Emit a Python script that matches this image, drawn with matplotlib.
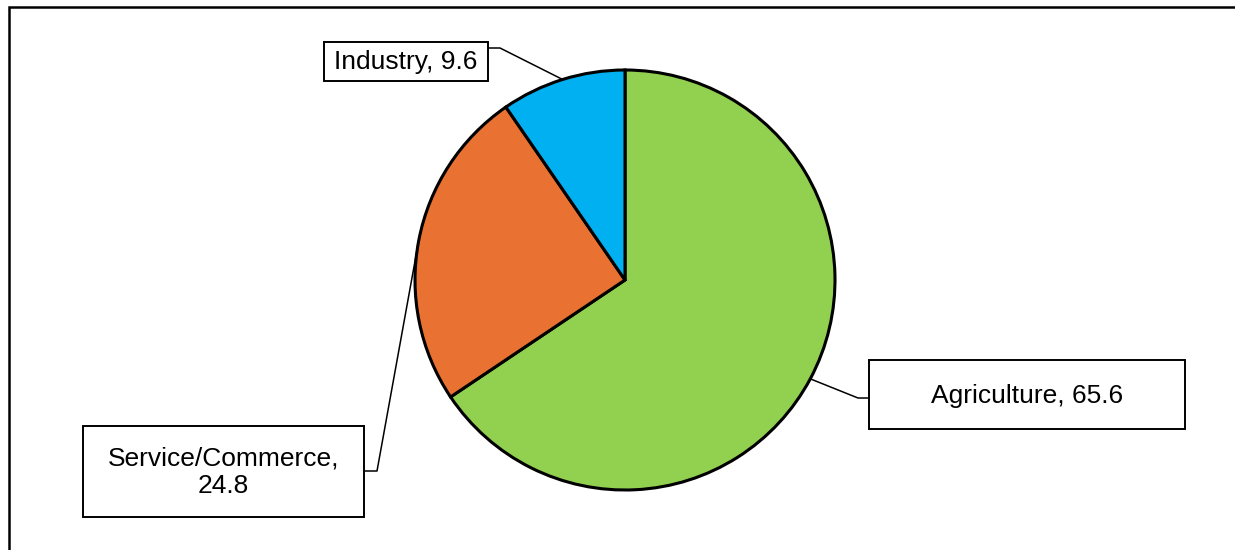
import matplotlib.pyplot as plt
import numpy as np
from matplotlib.patches import Rectangle

plt.rcParams['font.family'] = ['Liberation Sans', 'DejaVu Sans']

sectors = ['Agriculture', 'Service/Commerce', 'Industry']
shares = [65.6, 24.8, 9.6]
label_texts = ['Agriculture, 65.6', 'Service/Commerce,\n24.8', 'Industry, 9.6']
colors = ['#92D050', '#E97132', '#00B0F0']

W, H = 1235, 550
fig = plt.figure(figsize=(W / 100, H / 100), dpi=100)
ax = fig.add_axes([0, 0, 1, 1])

# outer chart frame (only left and top visible)
ax.plot([9, 9, W + 5], [-5, H - 7, H - 7], color='black', lw=1.8,
        solid_joinstyle='miter')

cx, cy, r = 625, H - 280, 210
wedges, _ = ax.pie(shares, colors=colors, startangle=90, counterclock=False,
                   center=(cx, cy), radius=r, frame=True,
                   wedgeprops=dict(edgecolor='black', linewidth=2.2))
ax.set_xlim(0, W)
ax.set_ylim(0, H)
ax.set_aspect('equal')
ax.axis('off')

# label boxes in pixel coords: left, top, right, bottom
boxes = [(869, 360, 1185, 429), (83, 426, 364, 517), (324, 42, 488, 81)]
# leader line points near the box: attach point, elbow
elbows = [((869, 398), (858, 398)), ((364, 471), (377, 471)),
          ((488, 48), (500, 48))]

for w, txt, box, (p0, p1) in zip(wedges, label_texts, boxes, elbows):
    mid = np.deg2rad((w.theta1 + w.theta2) / 2)
    ex, ey = cx + r * np.cos(mid), cy + r * np.sin(mid)
    ax.plot([p0[0], p1[0], ex], [H - p0[1], H - p1[1], ey],
            color='black', lw=1.1, zorder=1)
    l, t, rr, b = box
    ax.add_patch(Rectangle((l, H - b), rr - l, b - t, facecolor='white',
                           edgecolor='black', lw=1.4, zorder=3))
    ax.text((l + rr) / 2, H - (t + b) / 2 - 1, txt, ha='center', va='center',
            fontsize=19, linespacing=1.2, zorder=4)

fig.savefig('out.png', dpi=100, facecolor='white')
